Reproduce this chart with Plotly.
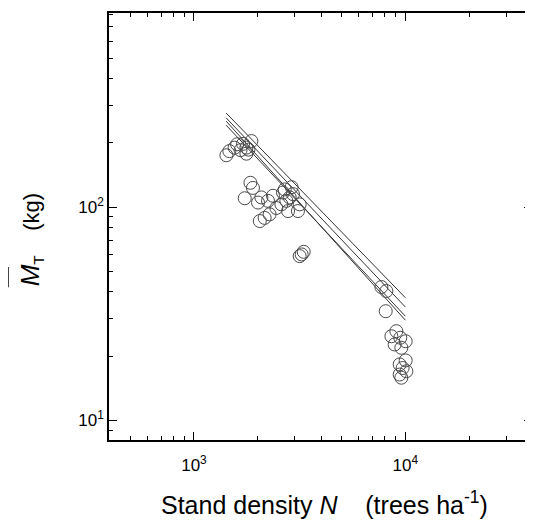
import plotly.graph_objects as go

# ---- data ----
density = [1423, 1557, 1706, 1770, 1869, 1770, 1600, 1470, 1810, 1660,
           1738, 1901, 1849, 2009, 2084, 2048, 2159, 2279, 2240, 2364,
           2453, 2637, 2591, 2735, 2786, 2940, 3103, 3162, 2838, 2687, 2897,
           3162, 3304, 3232,
           7700, 8128, 8074, 8590, 9065, 8895, 9570, 10033, 9460, 9397,
           10033, 9570, 10109, 9397, 9705]
mass = [175, 190, 198, 178, 204, 190, 197, 183, 186, 185,
        110, 123, 130, 105, 111, 86, 89, 92.5, 107, 113,
        99, 117, 103, 107, 95.8, 115, 95.8, 103, 111, 121, 124,
        58.9, 61.7, 60,
        42.2, 40.4, 32.5, 24.8, 26.2, 22.7, 21.9, 23.5, 24.4, 18.3,
        19.1, 15.85, 17.0, 16.4, 17.6]

line_density = [1420, 10000]
line1 = [276, 37.6]
line2 = [262, 34.0]
line3 = [242, 30.8]
line4 = [253, 29.5]

x_major = [1e3, 1e4]
x_major_text = ["10<sup>3</sup>", "10<sup>4</sup>"]
x_minor = [400, 500, 600, 700, 800, 900, 2000, 3000, 4000, 5000, 6000, 7000,
           8000, 9000, 20000, 30000, 40000]
y_major = [10, 100]
y_major_text = ["10<sup>1</sup>", "10<sup>2</sup>"]
y_minor = [9, 20, 30, 40, 50, 60, 70, 80, 90, 200, 300, 400, 500, 600, 700, 800]

x_title = "Stand density <i>N</i>    (trees ha<sup>-1</sup>)"
y_title = "<span style='font-size:26px'><i>M</i></span><sub>T</sub>    (kg)"

fig = go.Figure()
for ln in [line1, line2, line3, line4]:
    fig.add_trace(go.Scatter(x=line_density, y=ln, mode="lines",
                             line=dict(color="#333333", width=1),
                             showlegend=False, hoverinfo="skip"))
fig.add_trace(go.Scatter(x=density, y=mass, mode="markers",
                         marker=dict(symbol="circle-open", size=13,
                                     color="#4a4a4a", line=dict(width=1)),
                         showlegend=False))

font = "Liberation Sans, Arial, sans-serif"
axis_common = dict(type="log", showgrid=False, zeroline=False, automargin=False,
                   showline=True, linecolor="black", linewidth=1.5, mirror="ticks",
                   ticks="inside", ticklen=8, tickwidth=1.2, tickcolor="black",
                   tickfont=dict(size=17, family=font))
# page body has an 8px margin, so the figure is offset by 8px
fig.update_layout(
    width=525, height=512,
    margin=dict(l=101, r=1, t=5, b=80),
    paper_bgcolor="white", plot_bgcolor="white",
    font=dict(family=font, color="black"),
    xaxis=dict(range=[2.598, 4.599], tickvals=x_major, ticktext=x_major_text,
               ticklabelstandoff=9,
               minor=dict(tickvals=x_minor, ticks="inside", ticklen=4,
                          tickwidth=1.2, tickcolor="black", showgrid=False),
               **axis_common),
    yaxis=dict(range=[0.908, 2.91], tickvals=y_major, ticktext=y_major_text,
               minor=dict(tickvals=y_minor, ticks="inside", ticklen=4,
                          tickwidth=1.2, tickcolor="black", showgrid=False),
               **axis_common),
    annotations=[
        dict(text=x_title, xref="paper", yref="paper", x=0.509, y=-0.1475,
             xanchor="center", yanchor="middle", showarrow=False,
             font=dict(size=25, family=font)),
        dict(text=y_title, xref="paper", yref="paper", x=-0.184, y=0.468,
             xanchor="center", yanchor="middle", showarrow=False, textangle=-90,
             font=dict(size=22, family=font)),
    ],
    shapes=[
        dict(type="line", xref="paper", yref="paper", x0=-0.2388, x1=-0.2388,
             y0=0.358, y1=0.405, line=dict(color="black", width=1.5)),
    ],
)

fig.write_html("out.html")
